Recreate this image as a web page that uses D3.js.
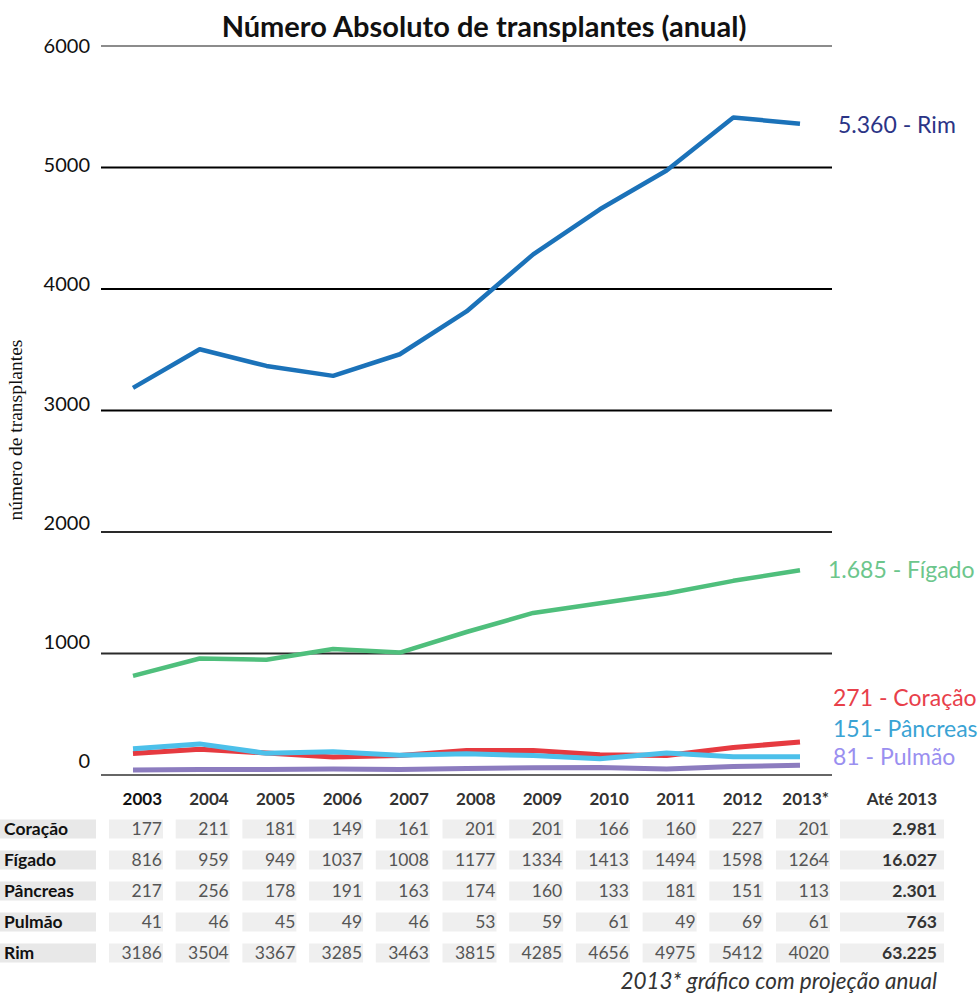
<!DOCTYPE html>
<html>
<head>
<meta charset="utf-8">
<script src="https://cdn.jsdelivr.net/npm/d3@7"></script>
<style>
  body { margin: 0; background: #fff; }
  svg { display: block; font-family: Lato, "Open Sans", sans-serif; }
</style>
</head>
<body>
<div id="chart"></div>
<script>
// Data
const years = ['2003', '2004', '2005', '2006', '2007', '2008', '2009', '2010', '2011', '2012', '2013*'];
const organs = ['Coração', 'Fígado', 'Pâncreas', 'Pulmão', 'Rim'];
const coracao = [177, 211, 181, 149, 161, 201, 201, 166, 160, 227, 201];
const figado = [816, 959, 949, 1037, 1008, 1177, 1334, 1413, 1494, 1598, 1264];
const pancreas = [217, 256, 178, 191, 163, 174, 160, 133, 181, 151, 113];
const pulmao = [41, 46, 45, 49, 46, 53, 59, 61, 49, 69, 61];
const rim = [3186, 3504, 3367, 3285, 3463, 3815, 4285, 4656, 4975, 5412, 4020];
// 2013 annual projection, used for the last point of each line
const projecao2013 = [271, 1685, 151, 81, 5360];
const projecaoLabels = ['271 - Coração', '1.685 - Fígado', '151- Pâncreas', '81 - Pulmão', '5.360 - Rim'];
const totals = ['2.981', '16.027', '2.301', '763', '63.225'];
const yTicks = [0, 1000, 2000, 3000, 4000, 5000, 6000];

const tableValues = [coracao, figado, pancreas, pulmao, rim];
const lineColors = ['#e63a40', '#4fbf7c', '#4cc0ea', '#8c7cbf', '#1b72b9'];
const labelColors = ['#e8404a', '#6cc68c', '#3aa3d4', '#9a8ff0', '#2b3486'];
const labelY = [698, 570, 729, 757, 125];

const width = 979, height = 994;
const svg = d3.select('#chart').append('svg')
  .attr('width', width)
  .attr('height', height);

const x = d3.scalePoint().domain(years).range([133, 800]);
const y = d3.scaleLinear().domain([0, 6000]).range([775, 46]);
// tick labels sit slightly higher than their lines in the original
const yLabel = d3.scaleLinear().domain([0, 6000]).range([761, 46]);

// title
svg.append('text')
  .attr('x', 484).attr('y', 37)
  .attr('text-anchor', 'middle')
  .attr('font-size', 29).attr('font-weight', 'bold')
  .attr('fill', '#111')
  .text('Número Absoluto de transplantes (anual)');

// gridlines
svg.append('g').selectAll('line')
  .data(yTicks)
  .enter().append('line')
  .attr('x1', 101).attr('x2', 832)
  .attr('y1', d => y(d)).attr('y2', d => y(d))
  .attr('stroke', d => (d === 0 || d === 6000) ? '#666' : (d <= 2000 ? '#2a2a2a' : '#000'))
  .attr('stroke-width', d => d === 6000 ? 1.5 : 2);

svg.append('g').selectAll('text')
  .data(yTicks)
  .enter().append('text')
  .attr('x', 90).attr('y', d => yLabel(d))
  .attr('dy', '0.35em')
  .attr('text-anchor', 'end')
  .attr('font-size', 20)
  .attr('fill', '#111')
  .text(d => d);

// y axis title
svg.append('text')
  .attr('transform', 'translate(22,430) rotate(-90)')
  .attr('text-anchor', 'middle')
  .attr('font-family', '"Liberation Serif", "DejaVu Serif", serif')
  .attr('font-size', 19.5)
  .attr('fill', '#111')
  .text('número de transplantes');

// lines
const line = d3.line()
  .x(d => x(d.year))
  .y(d => y(d.value));

const series = organs.map((name, i) => ({
  name,
  color: lineColors[i],
  points: years.map((yr, j) => ({ year: yr, value: j === years.length - 1 ? projecao2013[i] : tableValues[i][j] }))
}));

const drawOrder = [3, 0, 2, 1, 4];
svg.append('g').selectAll('path')
  .data(drawOrder.map(i => series[i]))
  .enter().append('path')
  .attr('d', d => line(d.points))
  .attr('fill', 'none')
  .attr('stroke', d => d.color)
  .attr('stroke-width', d => (d.name === 'Rim' || d.name === 'Fígado') ? 4.5 : 5)
  .attr('stroke-linejoin', 'round');

// end labels
svg.append('g').selectAll('text')
  .data(organs)
  .enter().append('text')
  .attr('x', (d, i) => i === 4 ? 838 : (i === 1 ? 828 : 833))
  .attr('y', (d, i) => labelY[i])
  .attr('dy', '0.35em')
  .attr('font-size', 23)
  .attr('fill', (d, i) => labelColors[i])
  .text((d, i) => projecaoLabels[i]);

// table
const rowY = d3.scalePoint().domain(organs).range([829, 953]);
const table = svg.append('g');

table.selectAll('.hdr')
  .data(years)
  .enter().append('text')
  .attr('x', d => x(d) + 29).attr('y', 799)
  .attr('dy', '0.35em')
  .attr('text-anchor', 'end')
  .attr('font-size', 17).attr('font-weight', 'bold')
  .attr('fill', (d, i) => i === 0 ? '#111' : '#333')
  .text(d => d);

table.append('text')
  .attr('x', 937).attr('y', 799)
  .attr('dy', '0.35em')
  .attr('text-anchor', 'end')
  .attr('font-size', 17).attr('font-weight', 'bold')
  .attr('fill', '#333')
  .text('Até 2013');

organs.forEach((organ, i) => {
  const cy = rowY(organ);
  const row = table.append('g');
  row.append('rect')
    .attr('x', 0).attr('y', cy - 9.5)
    .attr('width', 96).attr('height', 19)
    .attr('fill', '#e8e8e8');
  row.append('text')
    .attr('x', 4).attr('y', cy)
    .attr('dy', '0.35em')
    .attr('font-size', 17.5).attr('font-weight', 'bold')
    .attr('fill', '#111')
    .text(organ);

  row.selectAll('rect.cell')
    .data(years)
    .enter().append('rect')
    .attr('class', 'cell')
    .attr('x', d => x(d) - 24).attr('y', cy - 9.5)
    .attr('width', 54).attr('height', 19)
    .attr('fill', '#efefef');

  row.selectAll('text.val')
    .data(tableValues[i])
    .enter().append('text')
    .attr('class', 'val')
    .attr('x', (d, j) => x(years[j]) + 29).attr('y', cy)
    .attr('dy', '0.35em')
    .attr('text-anchor', 'end')
    .attr('font-size', 17.5)
    .attr('fill', '#555')
    .text(d => d);

  row.append('rect')
    .attr('x', 840).attr('y', cy - 9.5)
    .attr('width', 104).attr('height', 19)
    .attr('fill', '#efefef');
  row.append('text')
    .attr('x', 937).attr('y', cy)
    .attr('dy', '0.35em')
    .attr('text-anchor', 'end')
    .attr('font-size', 17.5).attr('font-weight', 'bold')
    .attr('fill', '#333')
    .text(totals[i]);
});

// footnote
svg.append('text')
  .attr('x', 937).attr('y', 989)
  .attr('text-anchor', 'end')
  .attr('font-size', 22.5).attr('font-style', 'italic')
  .attr('fill', '#333')
  .text('2013* gráfico com projeção anual');
</script>
</body>
</html>
